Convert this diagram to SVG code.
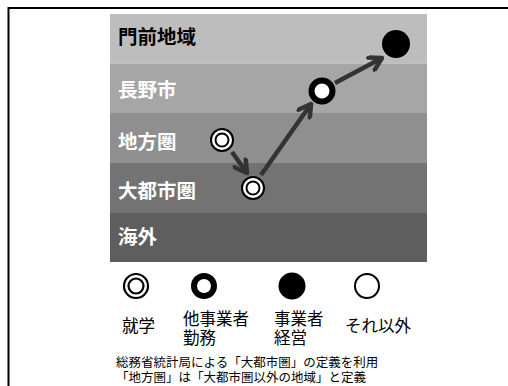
<svg xmlns="http://www.w3.org/2000/svg" width="508" height="386" viewBox="0 0 508 386">
<defs>
<style>
.lbl{font-family:"Noto Sans CJK JP","Noto Sans CJK SC",sans-serif;font-size:19.5px;font-weight:bold;fill:#fff}
.leg{font-family:"Noto Sans CJK JP","Noto Sans CJK SC",sans-serif;font-size:16.5px;fill:#000}
.note{font-family:"Noto Sans CJK JP","Noto Sans CJK SC",sans-serif;font-size:12.5px;fill:#000}
.arr{stroke:#333;stroke-width:4.5;fill:none;marker-end:url(#ah)}
</style>
<marker id="ah" viewBox="0 0 17 17" refX="14" refY="8.5" markerWidth="17" markerHeight="17" markerUnits="userSpaceOnUse" orient="auto">
<path d="M2,1.5 L14,8.5 L2,15.5" fill="none" stroke="#333" stroke-width="4.5" stroke-linecap="round" stroke-linejoin="round"/>
</marker>
<g id="dbl"><circle r="11" fill="#fff" stroke="#000" stroke-width="2"/><circle r="6.5" fill="#fff" stroke="#000" stroke-width="2"/></g>
<g id="thick"><circle r="10.5" fill="#fff" stroke="#000" stroke-width="6"/></g>
</defs>
<rect width="508" height="386" fill="#fff"/>
<rect x="8.5" y="8" width="600" height="500" fill="none" stroke="#000" stroke-width="2"/>
<g id="bands">
<rect x="110" y="14" width="317" height="49.5" fill="#bdbdbd"/>
<rect x="110" y="63.5" width="317" height="49.5" fill="#a6a6a6"/>
<rect x="110" y="113" width="317" height="50" fill="#8f8f8f"/>
<rect x="110" y="163" width="317" height="50" fill="#737373"/>
<rect x="110" y="213" width="317" height="49" fill="#5e5e5e"/>
</g>
<g id="band-labels">
<text class="lbl" x="118" y="44" style="fill:#000">門前地域</text>
<text class="lbl" x="118" y="97">長野市</text>
<text class="lbl" x="118" y="149">地方圏</text>
<text class="lbl" x="118" y="198">大都市圏</text>
<text class="lbl" x="118" y="244">海外</text>
</g>
<g id="connectors">
<path class="arr" d="M232,152 L247,173"/>
<path class="arr" d="M261,175 L311,104"/>
<path class="arr" d="M335,83 L382,58"/>
</g>
<g id="node-chihou"><use href="#dbl" x="222" y="140"/></g>
<g id="node-daitoshi"><use href="#dbl" x="253" y="188"/></g>
<g id="node-nagano"><use href="#thick" x="322" y="91"/></g>
<g id="node-monzen"><circle cx="396" cy="44" r="14" fill="#000"/></g>
<g id="legend">
<circle cx="136" cy="286" r="12" fill="#fff" stroke="#000" stroke-width="2.2"/>
<circle cx="136" cy="286" r="7.5" fill="#fff" stroke="#000" stroke-width="2.2"/>
<circle cx="204" cy="286" r="10" fill="#fff" stroke="#000" stroke-width="6"/>
<circle cx="292" cy="286" r="13.5" fill="#000"/>
<circle cx="367" cy="286" r="12" fill="#fff" stroke="#000" stroke-width="2"/>
<text class="leg" x="122" y="332">就学</text>
<text class="leg" x="183" y="325">他事業者<tspan x="183" dy="19">勤務</tspan></text>
<text class="leg" x="274" y="325">事業者<tspan x="274" dy="19">経営</tspan></text>
<text class="leg" x="345" y="332">それ以外</text>
</g>
<g id="notes">
<text class="note" x="116" y="367">総務省統計局による「大都市圏」の定義を利用<tspan x="116" dy="15">「地方圏」は「大都市圏以外の地域」と定義</tspan></text>
</g>
</svg>
